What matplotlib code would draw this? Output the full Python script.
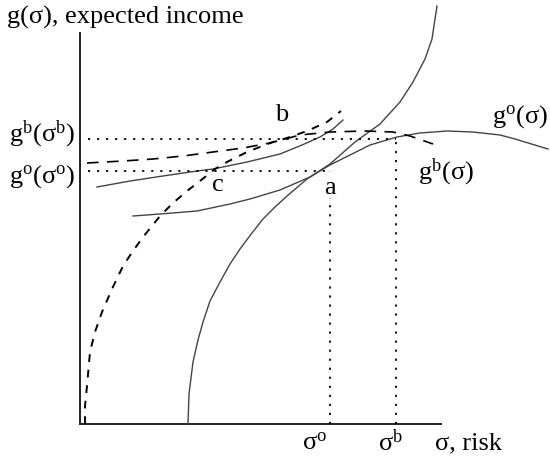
import matplotlib
matplotlib.use("Agg")
import matplotlib.pyplot as plt

plt.rcParams['font.family'] = ['Liberation Serif', 'DejaVu Serif']
plt.rcParams['mathtext.fontset'] = 'custom'
plt.rcParams['mathtext.rm'] = 'Liberation Serif'
plt.rcParams['mathtext.it'] = 'Liberation Serif:italic'

# curves, (sigma, g) in chart units
indiff_a_sigma = [10.8, 10.9, 11.3, 11.8, 12.3, 13.0, 14.0, 15.0, 16.0, 17.2, 18.3, 19.5, 20.7, 22.7,
                  25.0, 27.5, 30.0, 32.0, 33.3, 34.5, 35.2, 35.7]
indiff_a_g = [0.0, 3.0, 6.2, 8.4, 10.2, 12.3, 14.2, 16.0, 17.5, 19.1, 20.5, 21.7, 22.8, 24.5,
              26.0, 28.2, 30.0, 32.2, 34.2, 36.5, 38.5, 41.8]

go_sigma = [5.3, 8.0, 11.7, 15.0, 17.0, 20.0, 23.0, 25.0, 27.0, 29.0, 31.7, 34.0, 36.7, 39.3, 42.0, 43.5, 46.8]
go_g = [20.8, 21.0, 21.3, 22.0, 22.5, 23.4, 24.7, 25.9, 26.9, 27.9, 28.7, 29.1, 29.3, 29.2, 28.9, 28.5, 27.5]

indiff_c_sigma = [1.7, 5.0, 8.3, 11.7, 13.3, 16.7, 20.0, 22.2, 24.0, 25.3, 26.3]
indiff_c_g = [23.7, 24.3, 24.8, 25.3, 25.5, 26.2, 27.0, 27.9, 28.7, 29.5, 30.4]

steep_sigma = [0.5, 0.5, 0.7, 1.0, 1.5, 2.2, 3.2, 4.3, 5.3, 6.3, 7.2, 8.0, 9.3, 10.7, 12.0,
               13.5, 14.7, 16.7, 19.0, 20.7, 22.7, 24.7, 26.1]
steep_g = [0.0, 1.8, 3.8, 7.2, 9.2, 11.2, 13.5, 15.8, 17.3, 18.7, 19.8, 20.8, 22.1, 23.3, 24.3,
           25.5, 26.2, 27.2, 28.1, 28.6, 29.3, 30.2, 31.3]

gb_sigma = [0.7, 4.3, 7.3, 10.3, 13.3, 16.3, 19.0, 22.0, 25.0, 28.5, 31.3, 33.0, 35.3]
gb_g = [26.1, 26.3, 26.5, 26.8, 27.2, 27.6, 28.1, 28.9, 29.2, 29.3, 29.2, 28.8, 28.0]

sigma_o, sigma_b = 25.0, 31.6
g_o, g_b = 25.3, 28.5

fig = plt.figure(figsize=(5.5, 4.64), dpi=100)
ax = fig.add_axes([0, 0, 1, 1])
ax.set_xlim(-8.0, 47.0)
ax.set_ylim(-3.9, 42.5)
ax.axis('off')

# axes
ax.plot([0, 0], [0, 39.1], color='#222222', lw=1.4)
ax.plot([0, 36.1], [0, 0], color='#222222', lw=1.4)

curve = dict(color='#444444', lw=1.0, solid_joinstyle='round')
ax.plot(indiff_a_sigma, indiff_a_g, **curve)
ax.plot(go_sigma, go_g, **curve)
ax.plot(indiff_c_sigma, indiff_c_g, **curve)

ax.plot(steep_sigma, steep_g, color='black', lw=1.4, linestyle=(0, (4, 4)))
ax.plot(gb_sigma, gb_g, color='black', lw=1.2, linestyle=(0, (7, 5)))

dots = dict(color='black', lw=1.3, linestyle=(0, (1.2, 3.8)))
ax.plot([0.8, sigma_b], [g_b, g_b], **dots)
ax.plot([sigma_b, sigma_b], [0, g_b], **dots)
ax.plot([0.8, sigma_o], [g_o, g_o], **dots)
ax.plot([sigma_o, sigma_o], [0, g_o], **dots)

fs = 19
ax.text(-7.3, 40.8, 'g(σ), expected income', fontsize=fs, va='center', ha='left')
ax.text(-0.5, 29.1, r'g$^{\rm b}$(σ$^{\rm b}$)', fontsize=fs, va='center', ha='right')
ax.text(-0.5, 24.8, r'g$^{\rm o}$(σ$^{\rm o}$)', fontsize=fs, va='center', ha='right')
ax.text(20.2, 31.0, 'b', fontsize=fs, va='center', ha='center')
ax.text(13.8, 24.0, 'c', fontsize=fs, va='center', ha='center')
ax.text(25.0, 23.7, 'a', fontsize=fs, va='center', ha='center',
        bbox=dict(facecolor='white', edgecolor='none', pad=0))
ax.text(46.8, 30.8, r'g$^{\rm o}$(σ)', fontsize=fs, va='center', ha='right')
ax.text(33.8, 25.3, r'g$^{\rm b}$(σ)', fontsize=fs, va='center', ha='left')
ax.text(23.5, -1.8, r'σ$^{\rm o}$', fontsize=fs, va='center', ha='center')
ax.text(31.0, -1.8, r'σ$^{\rm b}$', fontsize=fs, va='center', ha='center')
ax.text(35.5, -1.8, 'σ, risk', fontsize=fs, va='center', ha='left')

fig.savefig('out.png', dpi=100)
